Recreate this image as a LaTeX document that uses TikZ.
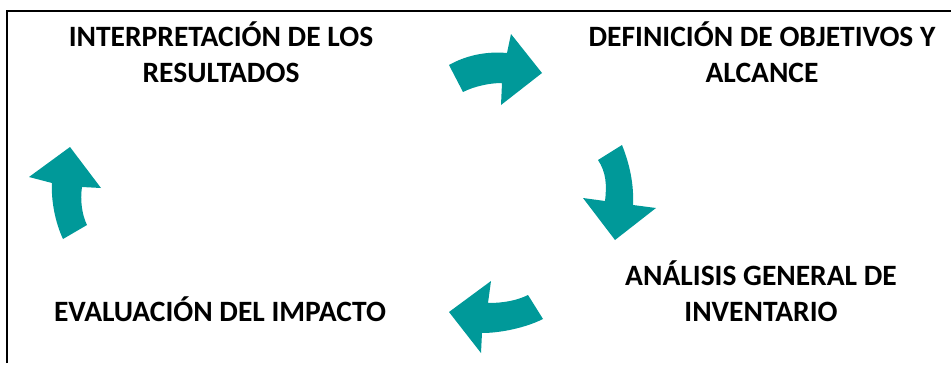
\documentclass[tikz,border=0pt]{standalone}
\usepackage{fontspec}
\setmainfont{Carlito}
\definecolor{teal}{RGB}{0,153,153}
\begin{document}
\begin{tikzpicture}[x=1pt,y=-1pt,
  label/.style={font=\bfseries\fontsize{29.5}{36}\selectfont, align=center, inner sep=0pt, anchor=base},
  cyclearrow/.style={fill=teal, draw=none}]
\useasboundingbox (0,0) rectangle (951,367);
\draw[line width=1.2pt] (7,363) -- (7,11) -- (951,11);
\node[label] (interp) at (221,82) {INTERPRETACIÓN DE LOS\\RESULTADOS};
\node[label] (defin) at (762,82) {DEFINICIÓN DE OBJETIVOS Y\\ALCANCE};
\node[label] (anal) at (761,321) {ANÁLISIS GENERAL DE\\INVENTARIO};
\node[label] (eval) at (220,321) {EVALUACIÓN DEL IMPACTO};
% top arrow (right)
\fill[cyclearrow] (449,65) -- (463,92) .. controls (475,86) and (490,83) .. (502,83) -- (501,105) -- (542,73) -- (511,34) -- (507,53) .. controls (485,51) and (465,56) .. (449,65) -- cycle;
% right arrow (down)
\fill[cyclearrow] (622,145) .. controls (630,165) and (634,185) .. (633,205) -- (656,208) -- (615,240) -- (583,198) -- (605,201) .. controls (607,185) and (606,172) .. (598,160) -- cycle;
% bottom arrow (left)
\fill[cyclearrow] (528,295) -- (543,319) .. controls (525,328) and (500,333) .. (482,333) -- (481,353) -- (449,312) -- (491,281) -- (488,303) .. controls (505,303) and (518,300) .. (528,295) -- cycle;
% left arrow (up)
\fill[cyclearrow] (70,147) -- (101,188) -- (82,187) .. controls (80,200) and (82,215) .. (87,225) -- (63,239) .. controls (55,222) and (51,200) .. (52,183) -- (29,177) -- cycle;
\end{tikzpicture}
\end{document}
